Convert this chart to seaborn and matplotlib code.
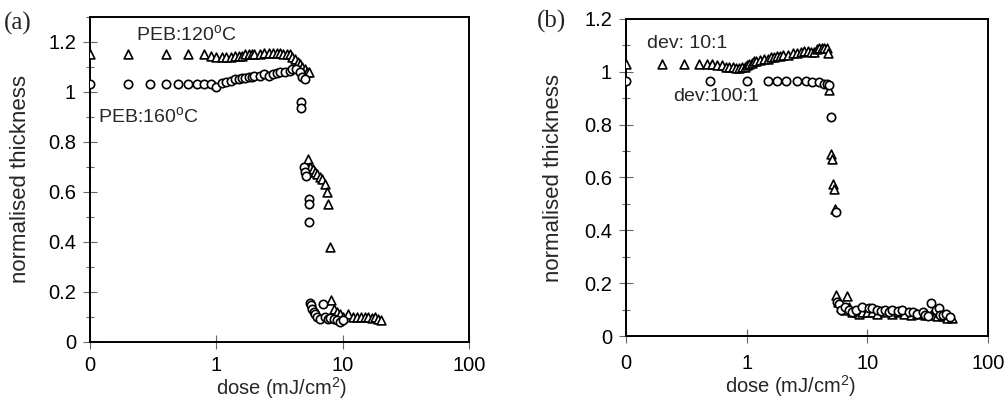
import matplotlib
matplotlib.use("Agg")
import matplotlib.pyplot as plt
from matplotlib.ticker import FixedLocator, FixedFormatter, MultipleLocator, NullLocator
import numpy as np
import pandas as pd
import seaborn as sns

# ---------------- data ----------------
# panel (a): PEB 120 C (triangles) and PEB 160 C (circles)
a_tri_x = [0.1, 0.2, 0.4, 0.6, 0.8, 0.9, 1.0, 1.1, 1.2, 1.3, 1.4, 1.5, 1.6, 1.7, 1.8,
           1.9, 2.0, 2.2, 2.4, 2.6, 2.8, 3.0, 3.2, 3.4, 3.6, 3.8, 4.0, 4.2, 4.4, 4.6,
           4.8, 5.0, 5.2, 5.4, 5.3, 5.5, 5.8, 6.0, 6.3, 6.6, 6.9, 7.2, 7.5, 7.7, 8.0,
           8.1, 8.5, 9.0, 9.5, 10, 11, 12, 13, 14, 15, 16, 17, 18, 19, 20]
a_tri_y = [1.15, 1.15, 1.15, 1.15, 1.15, 1.145, 1.14, 1.14, 1.14, 1.14, 1.145, 1.145,
           1.145, 1.15, 1.15, 1.15, 1.15, 1.15, 1.155, 1.155, 1.155, 1.155, 1.155,
           1.15, 1.15, 1.15, 1.14, 1.13, 1.12, 1.11, 1.10, 1.09, 1.08, 1.08, 0.73,
           0.70, 0.69, 0.68, 0.67, 0.66, 0.65, 0.63, 0.60, 0.55, 0.38, 0.165, 0.13,
           0.12, 0.11, 0.10, 0.11, 0.10, 0.10, 0.10, 0.10, 0.10, 0.095, 0.10, 0.09,
           0.085]
a_cir_x = [0.1, 0.2, 0.3, 0.4, 0.5, 0.6, 0.7, 0.8, 0.9, 1.0, 1.1, 1.2, 1.3, 1.4, 1.5,
           1.6, 1.7, 1.8, 1.9, 2.0, 2.2, 2.4, 2.6, 2.8, 3.0, 3.2, 3.5, 3.8, 4.0, 4.3,
           4.6, 4.8, 5.0, 4.7, 4.7, 4.9, 5.0, 5.1, 5.4, 5.4, 5.4, 5.5, 5.6, 5.7, 5.9,
           6.0, 6.3, 6.6, 7.0, 7.2, 7.6, 8.0, 8.5, 9.0, 9.5, 10.0]
a_cir_y = [1.03, 1.03, 1.03, 1.03, 1.03, 1.03, 1.03, 1.03, 1.03, 1.02, 1.035, 1.04,
           1.045, 1.05, 1.05, 1.055, 1.055, 1.06, 1.06, 1.065, 1.065, 1.07, 1.065,
           1.07, 1.075, 1.08, 1.08, 1.085, 1.09, 1.09, 1.08, 1.06, 1.05, 0.96, 0.935,
           0.70, 0.68, 0.665, 0.57, 0.55, 0.48, 0.155, 0.145, 0.13, 0.12, 0.11, 0.10,
           0.09, 0.15, 0.10, 0.09, 0.095, 0.09, 0.085, 0.08, 0.085]

# panel (b): developer 10:1 (triangles) and 100:1 (circles)
b_tri_x = [0.1, 0.2, 0.3, 0.4, 0.47, 0.52, 0.57, 0.62, 0.67, 0.72, 0.77, 0.82, 0.87,
           0.92, 0.97, 1.0, 1.05, 1.1, 1.15, 1.2, 1.3, 1.4, 1.5, 1.6, 1.7, 1.8, 1.9,
           2.0, 2.2, 2.4, 2.6, 2.8, 3.0, 3.2, 3.4, 3.6, 3.8, 4.0, 4.2, 4.4, 4.6, 4.7,
           4.8, 5.0, 5.05, 5.2, 5.25, 5.4, 5.5, 5.7, 6.0, 6.5, 6.8, 7.0, 7.5, 8.0,
           8.5, 9.0, 10, 11, 12, 14, 16, 18, 20, 23, 26, 30, 34, 38, 42, 46, 50]
b_tri_y = [1.03, 1.03, 1.03, 1.03, 1.03, 1.03, 1.025, 1.025, 1.02, 1.02, 1.02, 1.015,
           1.015, 1.02, 1.02, 1.025, 1.03, 1.035, 1.04, 1.04, 1.045, 1.05, 1.05,
           1.055, 1.055, 1.06, 1.06, 1.065, 1.065, 1.07, 1.07, 1.075, 1.08, 1.08,
           1.075, 1.075, 1.085, 1.09, 1.09, 1.09, 1.09, 1.07, 0.93, 0.69, 0.67,
           0.575, 0.555, 0.48, 0.155, 0.13, 0.11, 0.10, 0.15, 0.11, 0.09, 0.09,
           0.085, 0.09, 0.09, 0.09, 0.085, 0.09, 0.085, 0.09, 0.085, 0.08, 0.085,
           0.08, 0.08, 0.075, 0.075, 0.07, 0.07]
b_cir_x = [0.1, 0.5, 1.0, 1.5, 1.8, 2.1, 2.6, 3.1, 3.5, 4.0, 4.4, 4.6, 4.8, 5.0, 5.5,
           5.6, 5.8, 6.0, 6.5, 7.0, 7.5, 8.0, 9.0, 10.4, 11, 12, 13, 14, 15, 16, 18,
           19.5, 22, 24, 26, 29, 30, 32, 34, 37, 39, 40, 42, 45, 48]
b_cir_y = [0.965, 0.965, 0.965, 0.965, 0.965, 0.965, 0.965, 0.965, 0.96, 0.96, 0.955,
           0.955, 0.95, 0.83, 0.47, 0.13, 0.12, 0.10, 0.11, 0.10, 0.09, 0.10, 0.11,
           0.106, 0.105, 0.10, 0.095, 0.10, 0.09, 0.10, 0.095, 0.10, 0.09, 0.09,
           0.085, 0.09, 0.08, 0.075, 0.125, 0.10, 0.106, 0.08, 0.08, 0.085, 0.072]

x_ticks = [0.1, 1, 10, 100]
x_tick_labels = ["0", "1", "10", "100"]

# ---------------- style ----------------
sns.set_theme(style="white")
plt.rcParams["font.family"] = ["Liberation Sans", "DejaVu Sans"]
plt.rcParams["mathtext.fontset"] = "custom"
plt.rcParams["mathtext.rm"] = "Liberation Sans"
plt.rcParams["mathtext.it"] = "Liberation Sans:italic"

fig = plt.figure(figsize=(10.08, 4.01), dpi=100)
ax_a = fig.add_axes([90 / 1008, 1 - 341.7 / 401, (469 - 90) / 1008, (341.7 - 17) / 401])
ax_b = fig.add_axes([626 / 1008, 1 - 336 / 401, (988 - 626) / 1008, (336 - 19) / 401])

mk = dict(facecolor="white", edgecolor="black", linewidth=1.2, legend=False, zorder=3)


def draw(ax, tx, ty, cx, cy, ytop, xpad):
    sns.scatterplot(x=tx, y=ty, marker="^", s=40, ax=ax, **mk)
    sns.scatterplot(x=cx, y=cy, marker="o", s=36, ax=ax, **mk)
    ax.set_xscale("log")
    ax.set_xlim(0.1, 100)
    ax.set_ylim(0, ytop)
    ax.xaxis.set_major_locator(FixedLocator(x_ticks))
    ax.xaxis.set_major_formatter(FixedFormatter(x_tick_labels))
    ax.xaxis.set_minor_locator(NullLocator())
    ax.yaxis.set_major_locator(MultipleLocator(0.2))
    ax.yaxis.set_minor_locator(MultipleLocator(0.1))
    ax.yaxis.set_major_formatter(matplotlib.ticker.FuncFormatter(
        lambda v, p: "0" if abs(v) < 1e-9 else ("1" if abs(v - 1) < 1e-9 else f"{v:.1f}")))
    ax.tick_params(axis="both", which="major", direction="inout", length=10,
                   width=0.8, color="#666666", labelsize=14.5, labelcolor="black",
                   bottom=True, left=True, pad=5)
    ax.tick_params(axis="x", which="major", pad=xpad)
    ax.tick_params(axis="y", which="minor", direction="inout", length=6,
                   width=0.8, color="#666666", left=True)
    for sp in ax.spines.values():
        sp.set_color("black")
        sp.set_linewidth(1.4)
        sp.set_visible(True)
    ax.set_ylabel("normalised thickness", fontsize=16)
    ax.set_xlabel("dose (mJ/cm$^2$)", fontsize=14.5)


draw(ax_a, a_tri_x, a_tri_y, a_cir_x, a_cir_y, 1.3, 5)
draw(ax_b, b_tri_x, b_tri_y, b_cir_x, b_cir_y, 1.2, 8)

ax_a.xaxis.set_label_coords(0.505, -0.104)
ax_a.yaxis.set_label_coords(-0.155, 0.5)
ax_b.xaxis.set_label_coords(0.455, -0.117)
ax_b.yaxis.set_label_coords(-0.172, 0.5)

ax_a.text(0.23, 1.23, "PEB:120$^{\\rm o}$C", fontsize=14, va="center", ha="left")
ax_a.text(0.115, 0.905, "PEB:160$^{\\rm o}$C", fontsize=14, va="center", ha="left")
ax_b.text(0.15, 1.106, "dev: 10:1", fontsize=14, va="center", ha="left")
ax_b.text(0.245, 0.905, "dev:100:1", fontsize=14, va="center", ha="left")

fig.text(4 / 1008, 1 - 23 / 401, "(a)", fontsize=18, family=["Liberation Serif", "DejaVu Serif"],
         va="center", ha="left")
fig.text(537 / 1008, 1 - 21 / 401, "(b)", fontsize=18, family=["Liberation Serif", "DejaVu Serif"],
         va="center", ha="left")

fig.savefig("out.png", dpi=100)
